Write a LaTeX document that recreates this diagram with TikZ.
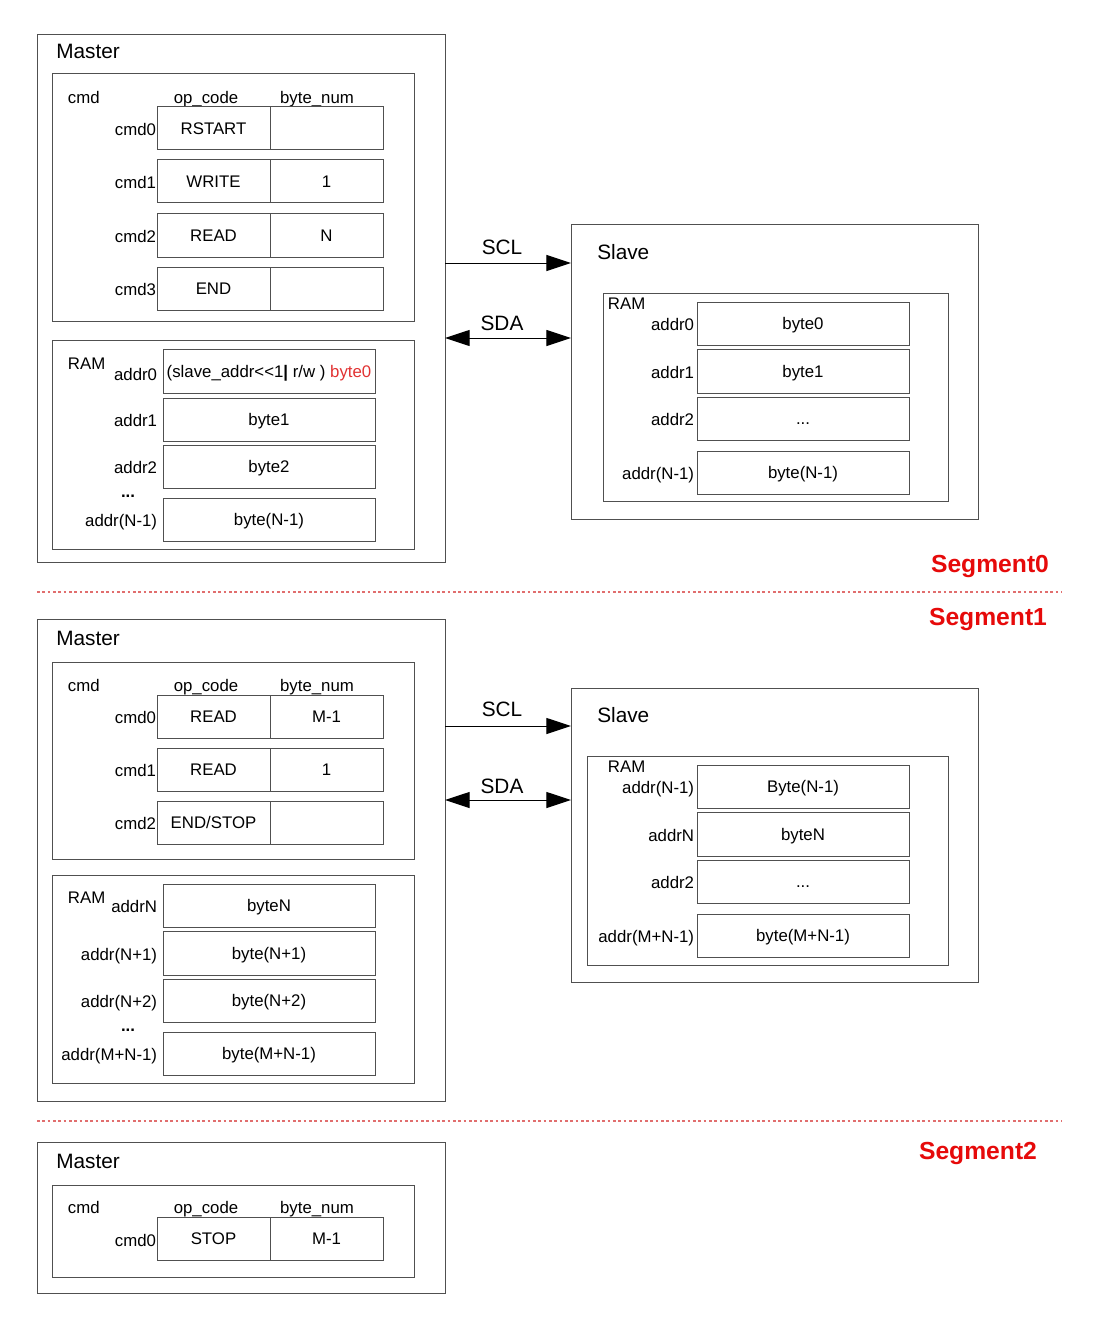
\documentclass[tikz,border=0pt]{standalone}
\usepackage{fontspec}
\setmainfont{Liberation Sans}
\usetikzlibrary{arrows.meta}
\definecolor{linegray}{RGB}{80,80,80}
\definecolor{segred}{RGB}{230,10,10}
\definecolor{bytered}{RGB}{225,50,50}
\definecolor{dashred}{RGB}{225,110,110}
\newcommand{\fs}{\fontsize{12.6}{15}\selectfont}
\newcommand{\fb}{\fontsize{15.6}{18}\selectfont}
\newcommand{\fseg}{\fontsize{18.5}{22}\selectfont\bfseries}
\newcommand{\tdots}{\vphantom{b}...}
\newcommand{\bx}[7][box]{%
  \node[#1, minimum width={(#5-#3)*0.75pt}, minimum height={(#6-#4)*0.75pt}] (#2) at ({(#3+#5)/2},{(#4+#6)/2}) {#7};}
\tikzset{
  box/.style={draw=linegray, line width=0.75pt, inner sep=0pt, outer sep=0pt},
  cell/.style={box, font=\fs, text depth=0pt},
  lbl/.style={inner sep=0.5pt, font=\fs, text depth=0pt},
  big/.style={inner sep=0pt, font=\fb},
  seg/.style={inner sep=0pt, font=\fseg, text=segred},
  arr/.style={draw=black, line width=0.75pt},
  tip/.style={-{Triangle[length=18.5pt,width=12pt]}},
  dtip/.style={{Triangle[length=18.5pt,width=12pt]}-{Triangle[length=18.5pt,width=12pt]}},
  sepline/.style={draw=dashred, line width=0.8pt, dash pattern=on 2pt off 2pt},
}
\begin{document}
\begin{tikzpicture}[x=0.75pt,y=-0.75pt]
\useasboundingbox (0,0) rectangle (1108,1323);

% ================= Segment 0 =================
\bx{m0}{37}{35}{445}{562}{}
\node[big, anchor=west] (m0t) at (56,51) {Master};
\bx{c0}{52}{74}{414}{321}{}
\node[lbl, anchor=west] (c0h) at (67,97) {cmd};
\node[lbl] (c0op) at (206,97) {op\_code};
\node[lbl] (c0bn) at (317,97) {byte\_num};
\foreach \i/\ya/\yb/\op/\num in {0/107/150/RSTART/,1/160/203/WRITE/1,2/214/257/READ/N,3/267/310/END/}{
  \bx[cell]{c0o\i}{157}{\ya}{270}{\yb}{\op}
  \bx[cell]{c0n\i}{270}{\ya}{383}{\yb}{\num}
  \node[lbl, anchor=east] (c0l\i) at (157,{(\ya+\yb)/2+1}) {cmd\i};
}
\bx{r0}{52}{340}{414}{549}{}
\node[lbl, anchor=west] (r0h) at (67,364) {RAM};
\bx[cell]{r0c0}{163}{349}{375}{393}{(slave\_addr<{}<1\textbf{|} r/w ) \textcolor{bytered}{byte0}}
\node[lbl, anchor=east] (r0l0) at (158,374) {addr0};
\foreach \i/\ya/\yb/\lab/\txt in {1/398/441/addr1/byte1,2/445/488/addr2/byte2,3/498/541/addr(N-1)/byte(N-1)}{
  \bx[cell]{r0c\i}{163}{\ya}{375}{\yb}{\txt}
  \node[lbl, anchor=east] (r0l\i) at (158,{(\ya+\yb)/2+1}) {\lab};
}
\node[lbl] (r0d) at (128,491) {\textbf{\tdots}};

\bx{s0}{571}{225}{978}{519}{}
\node[big, anchor=west] (s0t) at (597,252) {Slave};
\bx{sr0}{603}{293}{948}{501}{}
\node[lbl, anchor=west] (sr0h) at (607,304) {RAM};
\foreach \i/\ya/\yb/\lab/\txt in {0/302/345/addr0/byte0,1/349/393/addr1/byte1,2/397/440/addr2/\tdots,3/451/494/addr(N-1)/byte(N-1)}{
  \bx[cell]{sr0c\i}{697}{\ya}{909}{\yb}{\txt}
  \node[lbl, anchor=east] (sr0l\i) at (695,{(\ya+\yb)/2+1}) {\lab};
}
\draw[arr, tip] (m0.east |- 0,263) -- (s0.west |- 0,263);
\node[big] (scl0) at (502,247) {SCL};
\draw[arr, dtip] (m0.east |- 0,338) -- (s0.west |- 0,338);
\node[big] (sda0) at (502,323) {SDA};

\coordinate (d0a) at (37,592);
\coordinate (d0b) at (1062,592);
\draw[sepline] (d0a) -- (d0b);
\node[seg] (seg0) at (990,566) {Segment0};
\node[seg] (seg1) at (988,619) {Segment1};

% ================= Segment 1 =================
\bx{m1}{37}{619}{445}{1101}{}
\node[big, anchor=west] (m1t) at (56,638) {Master};
\bx{c1}{52}{662}{414}{859}{}
\node[lbl, anchor=west] (c1h) at (67,685) {cmd};
\node[lbl] (c1op) at (206,685) {op\_code};
\node[lbl] (c1bn) at (317,685) {byte\_num};
\foreach \i/\ya/\yb/\op/\num in {0/695/738/READ/M-1,1/748/791/READ/1,2/801/844/{END/STOP}/}{
  \bx[cell]{c1o\i}{157}{\ya}{270}{\yb}{\op}
  \bx[cell]{c1n\i}{270}{\ya}{383}{\yb}{\num}
  \node[lbl, anchor=east] (c1l\i) at (157,{(\ya+\yb)/2+1}) {cmd\i};
}
\bx{r1}{52}{875}{414}{1083}{}
\node[lbl, anchor=west] (r1h) at (67,898) {RAM};
\foreach \i/\ya/\yb/\lab/\txt in {0/884/927/addrN/byteN,1/931/975/addr(N+1)/byte(N+1),2/979/1022/addr(N+2)/byte(N+2),3/1032/1075/addr(M+N-1)/byte(M+N-1)}{
  \bx[cell]{r1c\i}{163}{\ya}{375}{\yb}{\txt}
  \node[lbl, anchor=east] (r1l\i) at (158,{(\ya+\yb)/2+1}) {\lab};
}
\node[lbl] (r1d) at (128,1025) {\textbf{\tdots}};

\bx{s1}{571}{688}{978}{982}{}
\node[big, anchor=west] (s1t) at (597,715) {Slave};
\bx{sr1}{587}{756}{948}{965}{}
\node[lbl, anchor=west] (sr1h) at (607,767) {RAM};
\foreach \i/\ya/\yb/\lab/\txt in {0/765/808/addr(N-1)/Byte(N-1),1/812/856/addrN/byteN,2/860/903/addr2/\tdots,3/914/957/addr(M+N-1)/byte(M+N-1)}{
  \bx[cell]{sr1c\i}{697}{\ya}{909}{\yb}{\txt}
  \node[lbl, anchor=east] (sr1l\i) at (695,{(\ya+\yb)/2+1}) {\lab};
}
\draw[arr, tip] (m1.east |- 0,726) -- (s1.west |- 0,726);
\node[big] (scl1) at (502,709) {SCL};
\draw[arr, dtip] (m1.east |- 0,800) -- (s1.west |- 0,800);
\node[big] (sda1) at (502,786) {SDA};

\coordinate (d1a) at (37,1121);
\coordinate (d1b) at (1062,1121);
\draw[sepline] (d1a) -- (d1b);
\node[seg] (seg2) at (978,1153) {Segment2};

% ================= Segment 2 =================
\bx{m2}{37}{1142}{445}{1293}{}
\node[big, anchor=west] (m2t) at (56,1161) {Master};
\bx{c2}{52}{1185}{414}{1277}{}
\node[lbl, anchor=west] (c2h) at (67,1207) {cmd};
\node[lbl] (c2op) at (206,1207) {op\_code};
\node[lbl] (c2bn) at (317,1207) {byte\_num};
\bx[cell]{c2o0}{157}{1217}{270}{1260}{STOP}
\bx[cell]{c2n0}{270}{1217}{383}{1260}{M-1}
\node[lbl, anchor=east] (c2l0) at (157,1240) {cmd0};
\end{tikzpicture}
\end{document}
